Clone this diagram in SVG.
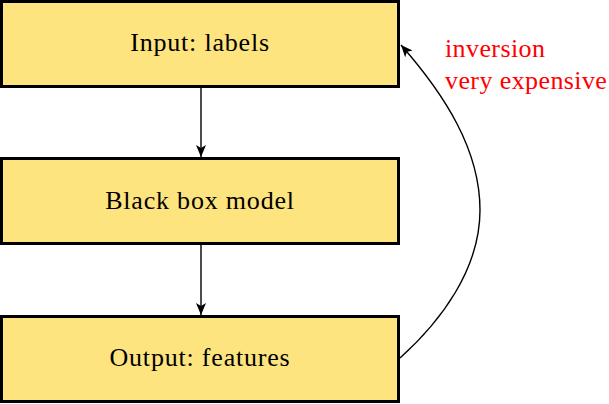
<svg xmlns="http://www.w3.org/2000/svg" width="609" height="404" viewBox="0 0 609 404">
<style>
.box{fill:#FEE47F;stroke:#000;stroke-width:3}
.lbl{font-family:"Liberation Serif","Times New Roman",serif;font-size:26px;letter-spacing:0.8px;fill:#000;text-anchor:middle}
.red{font-family:"Liberation Serif","Times New Roman",serif;font-size:26px;letter-spacing:0.4px;fill:#FF0000}
.edge{fill:none;stroke:#000;stroke-width:1.4}
</style>
<defs>
<marker id="ah" viewBox="0 0 12 10" refX="12" refY="5" markerWidth="12" markerHeight="10" markerUnits="userSpaceOnUse" orient="auto">
<path d="M0,0 L12,5 L0,10 L3,5 Z" fill="#000"/>
</marker>
</defs>
<g id="connectors">
<line class="edge" x1="201" y1="87" x2="201" y2="157" marker-end="url(#ah)"/>
<line class="edge" x1="201" y1="244" x2="201" y2="315" marker-end="url(#ah)"/>
<path class="edge" d="M400,358 C440,322 480,270 480,210 C480,150 445,95 401,45" marker-end="url(#ah)"/>
</g>
<g id="input">
<rect class="box" x="1.5" y="1.5" width="397" height="85"/>
<text class="lbl" x="200" y="51">Input: labels</text>
</g>
<g id="model">
<rect class="box" x="1.5" y="158.5" width="397" height="85"/>
<text class="lbl" x="200" y="209">Black box model</text>
</g>
<g id="output">
<rect class="box" x="1.5" y="316.5" width="397" height="85"/>
<text class="lbl" x="200" y="366">Output: features</text>
</g>
<g id="note">
<text class="red" x="445" y="57">inversion</text>
<text class="red" x="445" y="89">very expensive</text>
</g>
</svg>
